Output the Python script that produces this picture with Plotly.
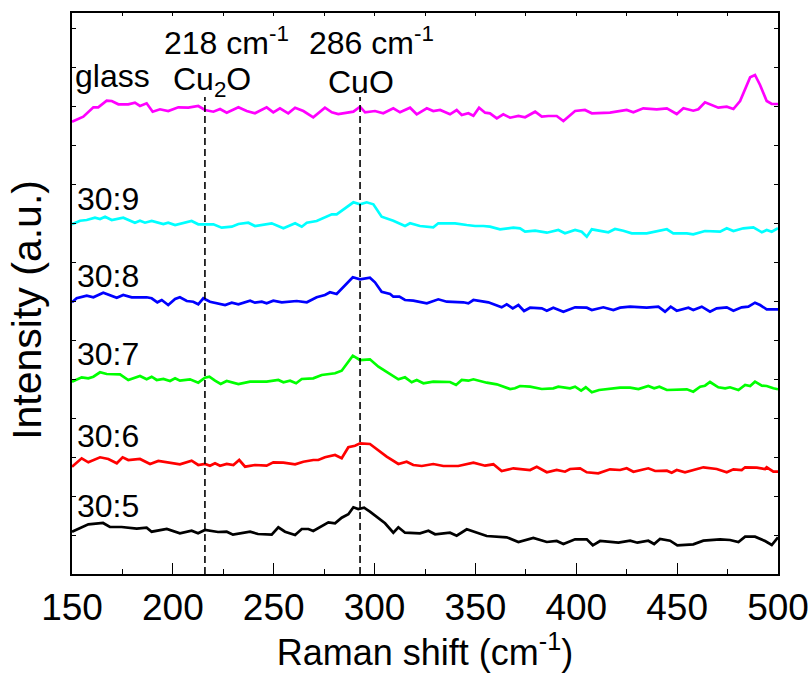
import plotly.graph_objects as go

# ---- data (Raman shift in cm^-1, intensity in arbitrary offset units) ----
x_305 = [150,158.1,165.4,168.8,174.6,182.1,187.0,189.5,197.0,203.5,209.3,212.5,215.9,222.4,226.7,229.8,238.3,242.2,249.0,252.3,255.6,260.6,263.9,267.2,269.6,273.0,277.1,280.4,283.7,287.0,289.5,291.9,294.8,297.7,301.9,305.2,309.3,311.8,315.1,322.5,326.7,330.0,337.4,340.7,345.7,349.8,355.6,365.5,371.3,378.7,385.4,390.3,393.6,399.4,405.2,408.2,411.8,420.9,426.7,430.3,435.7,438.6,441.5,446.5,450.1,458.0,463.0,471.3,476.2,480.4,483.7,488.6,493.6,496.9,500]
y_305 = [42.3,49.7,51,47,47,45.3,46.3,42.3,45,40.7,43.3,40.7,44,42,42.3,39.3,42.3,40,39.3,46.7,42.3,39,45,45,43,47.3,51.7,50.7,56.3,59.7,66.7,65,66.3,62.3,56.3,50.7,41.3,46.7,41.3,40.7,43.3,39.7,41.3,38.3,44.7,42,38,36.7,32,36,32,33,30,34.7,34.7,28.7,33,31.3,33.3,31.3,33.3,30,35,33.3,28.7,29.7,33.3,34.7,34,32,37.3,37.3,33,29,36.7]

x_306 = [150,154.8,158.1,163.9,168.0,172.2,175.1,177.9,183.7,188.7,192.8,197.7,203.5,209.3,212.6,215.9,218.4,220.9,223.4,226.7,230.0,232.9,235.8,240.7,246.5,249.8,254.8,260.6,264.7,269.6,272.1,275.4,280.4,283.7,287.0,290.3,292.8,297.7,301.9,306.0,311.8,315.9,319.2,323.4,329.1,334.1,341.5,349.0,354.8,358.9,363.0,368.8,377.1,380.4,385.4,390.3,394.4,396.9,401.9,405.2,410.9,416.7,421.7,425.0,428.3,435.7,439.1,444.9,447.3,449.8,453.9,463.0,469.6,474.6,477.9,482.0,483.7,489.5,493.6,494.4,497.7,500]
y_306 = [107.3,115.7,111.7,116.7,115,110.7,116.7,114,115,110,113,111.7,109.7,113.3,109,110,108.3,110.7,108.3,110,109,114,107.3,109,108.3,111.7,111.3,109.7,112.3,114,114,116.7,119,115.7,126.7,128.3,130.7,130,123.3,117.3,110,112.3,109,108,110,108,108,111.3,108.3,109.7,103,105.7,104,107.3,101.7,104,102.3,105,105.7,101.7,100.7,104.7,104,105.7,102.3,105.7,103,103.3,101.3,104,101.7,106.7,105,101.7,104.7,104,106.7,106.3,105,106.7,102.3,102.3]

x_307 = [150,154.8,158.1,160.6,163.9,167.2,173.8,177.9,183.7,187.0,189.5,192.0,195.3,198.6,201.1,203.5,208.5,212.6,215.9,218.1,220.9,223.7,226.7,232.5,238.3,246.5,252.3,254.8,258.1,261.1,263.9,269.6,273.8,280.4,283.7,286.2,289.2,292.8,297.7,301.9,306.8,311.8,315.1,318.4,320.9,324.2,329.1,337.4,340.4,343.2,346.5,349.0,355.6,360.6,367.2,369.6,372.1,377.1,382.9,388.6,391.1,396.9,399.4,402.4,404.7,407.7,411.3,415.1,421.7,426.7,430.8,435.7,438.6,441.2,444.9,454.8,458.0,461.4,463.8,466.3,470.4,473.8,476.2,480.4,483.7,486.2,488.6,492.0,494.4,497.7,500]
y_307 = [192.3,196.7,195.7,197.3,201.7,200,199.7,194,198,194.7,197.3,194,195,193,195.7,193.3,194.7,191.3,196.3,197.3,193.3,190,193,190,192.3,192.3,194,191.7,193.3,190.7,195,195.7,199,200.7,203.3,210.7,218.3,214,214.7,207.3,200.7,194.7,196.7,191.7,194,190.7,192.3,192,189,194,193.3,194.7,191.3,189.7,185,185.7,188,187.3,185,185.7,187.3,185.7,187.3,183.3,186.7,181.7,184,184.7,186.3,186.3,185,188,185.7,187.3,184,184.7,182.3,187.3,188.3,192,186.7,185.7,186.7,184,189,188,192.3,188.3,188,185.7,184.7]

x_308 = [150,152.3,157.3,160.6,165.5,172.2,175.4,179.6,187.0,189.5,192.3,194.5,197.7,201.1,203.5,206.9,210.1,212.6,215.1,218.4,225.9,229.2,232.5,238.3,240.7,244.1,246.5,249.8,254.0,261.4,266.4,271.3,275.4,277.9,281.2,284.5,289.2,292.8,297.7,300.2,303.5,307.7,309.3,312.3,315.1,319.2,325.9,331.6,335.8,344.0,346.5,349.0,356.4,363.0,365.5,368.5,371.3,374.1,377.1,382.9,385.4,388.6,393.6,399.4,405.2,407.7,413.4,418.4,421.7,426.7,434.9,440.7,444.0,446.8,449.8,455.6,458.0,462.2,466.3,469.6,474.6,477.9,482.0,485.3,488.6,491.1,494.4,500]
y_308 = [271.7,275.7,278.3,276.7,281.3,276.3,279,276.7,276.7,275.7,271.7,274,269,275,276.7,273,272.3,269.7,275.7,272.3,269,271.3,269.7,273.3,271.3,272.3,270.7,273.3,271.7,273,271.7,276.7,279,281.7,280,286.7,296.7,294.7,296.3,291.7,282.3,280,277.3,277.3,274,273.3,270.7,274.7,272.3,271.7,270.7,274,271.7,266.7,269.7,265.7,269,263,266.3,265.7,263.3,266.3,262.3,266.7,266.3,264,266.7,264,266.3,267.3,266.3,267.3,262.3,267.3,263.3,266.3,264,267.3,262.3,265.7,266.7,263.3,266.7,267.3,271.3,269,264.7,264.7]

x_309 = [150,154.0,157.3,161.4,163.9,166.4,169.7,175.4,181.2,183.7,186.2,189.5,195.3,197.7,201.1,205.2,209.3,212.6,220.1,224.2,229.2,232.5,237.4,240.7,244.8,249.0,254.8,260.6,263.9,266.4,271.3,276.3,278.8,281.2,284.5,289.5,292.8,296.1,299.4,303.5,309.3,315.1,317.6,322.5,329.1,331.6,337.4,339.9,345.7,349.8,353.9,357.2,362.2,368.8,372.1,374.6,379.6,385.4,391.1,394.4,399.4,402.7,405.2,407.7,415.9,419.2,423.3,427.5,434.9,440.7,444.9,448.1,454.8,458.0,463.8,471.3,474.6,477.9,482.8,487.8,492.0,494.4,496.9,500]
y_309 = [349.7,353.3,354,356.3,355,357.3,354,356.3,351.3,353.3,351.3,353,350,351.3,349,350.7,353,349.7,349.7,346.3,347.3,350,351.3,348,349,350.7,345.7,350.7,347.3,351.3,353,357.3,359.7,359.7,364.7,371.7,369.7,371.7,369.7,357.3,353.3,348,350.7,348,346.7,350.7,350.7,350.7,349,348,348,347.3,344.7,346.3,345.7,342.3,343.3,341.3,344,340.7,344,342.3,337.3,344.7,341.7,345,343.3,340.7,340.7,343,344.7,340.7,340.7,339.7,343,342.3,345.7,343,345.7,346.7,341.7,344,342.3,345.7]

x_glass = [150,155.6,160.6,163.0,167.2,169.7,173.0,177.9,181.2,183.7,187.0,190.0,193.6,197.7,202.7,207.7,212.6,215.9,220.1,223.4,226.7,232.5,236.6,240.7,246.5,249.8,253.1,257.2,260.6,264.7,269.6,275.4,278.8,282.0,289.5,292.8,295.3,300.2,304.3,309.3,312.6,317.6,320.9,325.9,329.1,332.5,337.4,340.7,343.2,346.5,349.0,351.8,354.8,357.2,360.6,363.8,367.2,371.3,374.6,379.6,382.9,386.2,390.3,393.6,399.4,404.3,407.7,416.7,425.0,428.3,433.2,439.9,444.9,449.8,453.1,458.0,460.5,463.8,470.4,474.6,477.9,481.2,486.2,488.6,491.1,494.4,496.9,500]
y_glass = [452.3,457.3,466.7,466.7,473.3,473,469.7,469.7,471.3,468,470.7,462.3,464.7,463,466.7,466.3,468,464,462.3,465,461.3,466.7,463,460.7,466.7,461.7,465.7,460.7,466.3,463,456.7,466.3,461.7,460,462.3,467.3,461.7,463,460.7,465.7,461.7,466.3,459.7,465.7,463,464,459.7,464,459,460.7,458.3,466.3,461.3,460.7,455.7,459.7,456.3,458,456.7,462.3,457.3,458,458,453,463,464,460.7,461.3,464,461.7,465.7,464.7,465.7,460,465.7,463.3,464.7,471.7,466.3,467.3,465,473,496.7,499,489,473,470,470]

series_names = ["30:5", "30:6", "30:7", "30:8", "30:9", "glass"]
series_x = [x_305, x_306, x_307, x_308, x_309, x_glass]
series_y = [y_305, y_306, y_307, y_308, y_309, y_glass]
series_colors = ["#000000", "#ff0000", "#00ff00", "#0000ff", "#00ffff", "#ff00ff"]

peak_positions = [215.9, 292.8]   # dashed reference lines (drawn)
peak_line_top = 477

FONT = "Liberation Sans, Arial, sans-serif"

fig = go.Figure()
for name, xs, ys, col in zip(series_names, series_x, series_y, series_colors):
    fig.add_trace(go.Scatter(x=xs, y=ys, mode="lines", name=name,
                             line=dict(color=col, width=2.7), showlegend=False))

for xp in peak_positions:
    fig.add_trace(go.Scatter(x=[xp, xp], y=[0, peak_line_top], mode="lines",
                             line=dict(color="black", width=1.6, dash="7px,4px"),
                             showlegend=False, hoverinfo="skip"))

# dummy trace to show top minor-tick axis
fig.add_trace(go.Scatter(x=[], y=[], xaxis="x2", showlegend=False))

ann = []
label_pos = {"30:9": 374.8, "30:8": 298.2, "30:7": 220.5, "30:6": 138.2, "30:5": 67.8}
for k, v in label_pos.items():
    ann.append(dict(x=151.4, y=v, xref="x", yref="y", text=k, showarrow=False,
                    xanchor="left", yanchor="middle", font=dict(size=32, color="black", family=FONT)))
ann.append(dict(x=150.5, y=498.5, xref="x", yref="y", text="glass", showarrow=False,
                xanchor="left", yanchor="middle", font=dict(size=32, color="black", family=FONT)))
ann.append(dict(x=194.6, y=533, xref="x", yref="y", text="218 cm<sup>-1</sup>", showarrow=False,
                xanchor="left", yanchor="middle", font=dict(size=32, color="black", family=FONT)))
ann.append(dict(x=266.5, y=533, xref="x", yref="y", text="286 cm<sup>-1</sup>", showarrow=False,
                xanchor="left", yanchor="middle", font=dict(size=32, color="black", family=FONT)))
ann.append(dict(x=199.1, y=492.5, xref="x", yref="y", text="Cu<sub>2</sub>O", showarrow=False,
                xanchor="left", yanchor="middle", font=dict(size=32, color="black", family=FONT)))
ann.append(dict(x=275.9, y=492.5, xref="x", yref="y", text="CuO", showarrow=False,
                xanchor="left", yanchor="middle", font=dict(size=32, color="black", family=FONT)))
ann.append(dict(x=-0.063, y=0.47, xref="paper", yref="paper", text="Intensity (a.u.)", showarrow=False,
                textangle=-90, xanchor="center", yanchor="middle",
                font=dict(size=41, color="black", family=FONT)))

fig.update_layout(
    width=810, height=673,
    margin=dict(l=72, r=32, t=13, b=99),
    paper_bgcolor="white", plot_bgcolor="white",
    font=dict(family=FONT, color="black"),
    annotations=ann,
    xaxis=dict(range=[150, 500], tickmode="linear", tick0=150, dtick=50, automargin=False,
               ticks="inside", ticklen=11, tickwidth=1.3, tickcolor="black",
               minor=dict(dtick=25, ticks="inside", ticklen=5, tickwidth=1.3, tickcolor="black"),
               showline=True, linecolor="black", linewidth=1.5, mirror=True,
               showgrid=False, zeroline=False,
               tickfont=dict(size=37, family=FONT, color="black"),
               title=dict(text="Raman shift (cm<sup>-1</sup>)", font=dict(size=36, family=FONT, color="black"),
                          standoff=4)),
    xaxis2=dict(range=[150, 500], overlaying="x", side="top", tickmode="linear", tick0=150, dtick=25,
                automargin=False,
                ticks="inside", ticklen=3, tickwidth=1, tickcolor="black",
                showticklabels=False, showgrid=False, zeroline=False, showline=False),
    yaxis=dict(range=[0, 561], tickmode="linear", tick0=39, dtick=39, automargin=False,
               ticks="inside", ticklen=4, tickwidth=1, tickcolor="black",
               showticklabels=False, showline=True, linecolor="black", linewidth=1.5,
               mirror="ticks", showgrid=False, zeroline=False),
)

fig.write_html("out.html")
